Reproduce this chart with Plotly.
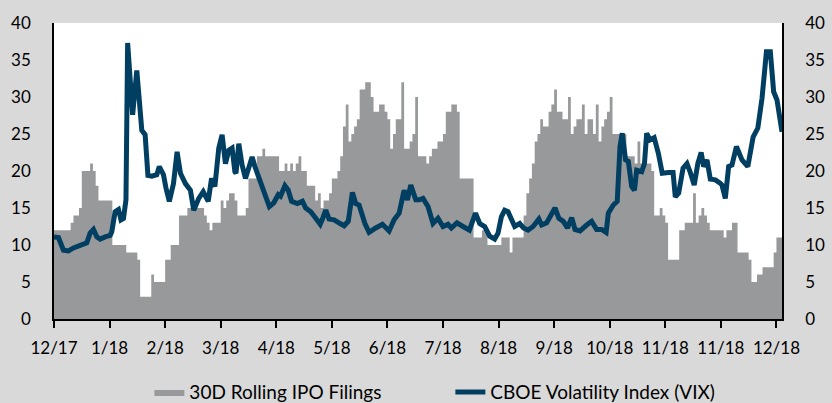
import plotly.graph_objects as go

# x positions are trading-day indices (0 = mid Dec 2017, 262 = Dec 2018)
tick_vals = [0, 20, 40, 60, 80, 100, 120, 140, 160, 180, 200, 220, 240, 260]
tick_text = ["12/17", "1/18", "2/18", "3/18", "4/18", "5/18", "6/18", "7/18",
             "8/18", "9/18", "10/18", "11/18", "11/18", "12/18"]

# 30D rolling IPO filings (step series: day index where a level begins, level)
ipo_day = [0, 6, 7, 9, 10, 13, 14, 15, 16, 21, 26, 30, 31, 35, 36, 40, 42, 45, 48,
           54, 55, 56, 57, 60, 61, 62, 63, 65, 66, 69, 70, 73, 75, 76, 81, 83, 84, 85,
           86, 87, 88, 89, 91, 94, 95, 96, 97, 99, 100, 102, 103, 104, 105, 106, 107,
           108, 109, 110, 112, 114, 115, 117, 119, 120, 121, 122, 123, 125, 126, 128,
           129, 130, 131, 134, 135, 136, 138, 140, 141, 143, 145, 146, 151, 154, 156,
           161, 164, 165, 169, 170, 171, 172, 173, 174, 175, 176, 178, 179, 180, 181,
           183, 185, 186, 187, 188, 190, 191, 192, 194, 195, 196, 197, 198, 199, 200,
           201, 206, 209, 210, 211, 215, 216, 218, 219, 220, 221, 225, 227, 230, 231,
           232, 233, 234, 235, 236, 241, 242, 244, 246, 250, 251, 253, 255, 259, 260, 262]
ipo_val = [12, 13, 14, 15, 20, 21, 20, 18, 16, 10, 9, 8, 3, 6, 5, 8, 10, 14, 15,
           14, 13, 12, 13, 16, 15, 16, 17, 16, 14, 15, 19, 22, 23, 22, 20, 21, 20, 21,
           20, 21, 22, 20, 18, 16, 17, 15, 16, 17, 19, 20, 22, 26, 29, 24, 25,
           26, 27, 31, 32, 30, 28, 29, 28, 27, 23, 25, 27, 32, 23, 24,
           25, 30, 22, 21, 22, 23, 24, 25, 28, 29, 28, 19, 11, 12, 10,
           11, 9, 11, 14, 17, 19, 21, 24, 25, 27, 26, 28, 29, 31, 28,
           27, 30, 25, 26, 27, 29, 25, 27, 25, 29, 24, 26, 27, 28, 30,
           25, 22, 21, 24, 21, 20, 14, 15, 14, 13, 8, 12, 13, 17, 13,
           14, 15, 14, 13, 12, 11, 12, 13, 9, 8, 5, 6, 7, 9, 11, 11]

# CBOE Volatility Index (VIX)
vix_day = [0, 1.6, 3.4, 5.2, 7, 8.8, 10.6, 11.8, 13, 14.2, 15.4, 16.6, 18.4, 20.2, 20.8,
           22, 23.2, 24.1, 25, 25.9, 26.5, 28.3, 29.8, 31.6, 32.8, 33.8, 35.2, 37, 37.9,
           39.4, 40.3, 41.5, 43, 44.3, 45.5, 47.3, 49.1, 50.3, 52.1, 53.7, 55.5, 56.7,
           57.9, 59.3, 60.5, 61.7, 62.9, 64.1, 65.1, 65.5, 66.5, 67.7, 68.9, 70.3, 71.3,
           72.3, 73.7, 75.5, 77.5, 79.1, 80.7, 81.5, 83.1, 84.3, 85.5, 87.6, 89.4, 90.6,
           92.4, 94.2, 95.8, 96.6, 97.8, 99, 100.8, 103, 104.4, 105.9, 107.4, 108.6,
           109.8, 111.9, 113.4, 115.8, 118.2, 120.6, 122.4, 124.2, 126, 127.2, 128.4,
           130.2, 131.5, 132.8, 134.6, 136.4, 138.2, 140, 141.8, 143, 145, 147.2, 149.5,
           151.7, 153.2, 155, 156.8, 158.6, 159.8, 161, 162.2, 163.4, 164.6, 165.8, 167.6,
           169, 170.6, 172.4, 174.5, 175.5, 177.3, 178.9, 180.3, 181.7, 183.3, 184.8,
           186.3, 187.5, 189.3, 191.7, 193.5, 195.3, 197.1, 198.7, 199.5, 201.3, 202.7,
           203.7, 204.5, 205.7, 206.7, 207.9, 208.9, 209.7, 211.5, 212.5, 213.3, 214.5,
           216, 217.5, 218.9, 221.2, 222.8, 223.6, 224.8, 226.4, 227.8, 229, 230.4,
           231.7, 232.9, 233.8, 235, 236.2, 238, 239.6, 240.4, 241.6, 242.8, 244, 245.6,
           247.6, 249.7, 251.6, 253.3, 254.8, 256.4, 257.8, 259, 260.2, 262]
vix_val = [11.1, 11.0, 9.3, 9.2, 9.6, 9.8, 10.1, 10.3, 11.6, 12.1, 11.1, 10.8, 11.1, 11.3, 11.8,
           14.5, 14.8, 13.4, 13.6, 16.1, 37.3, 27.6, 33.6, 25.5, 24.9, 19.4, 19.3, 19.5, 20.6,
           19.5, 17.7, 15.9, 18.3, 22.6, 19.7, 18.3, 17.4, 14.7, 16.3, 17.2, 15.9, 19.0,
           17.9, 23.1, 24.9, 21.0, 22.8, 23.1, 19.9, 19.7, 23.7, 20.8, 19.0, 20.8, 21.9,
           20.6, 19.2, 17.0, 15.2, 15.7, 16.8, 16.6, 18.0, 17.4, 15.9, 15.6, 15.9, 15.0,
           14.5, 13.6, 12.8, 13.5, 14.7, 13.5, 13.4, 12.9, 12.6, 13.2, 17.1, 15.6,
           15.4, 12.9, 11.7, 12.3, 12.8, 11.9, 13.4, 14.3, 17.4, 16.1, 18.1,
           16.1, 16.1, 16.3, 15.2, 12.9, 13.6, 12.5, 12.8, 12.3, 13.0, 12.5, 12.0,
           14.3, 12.9, 12.5, 11.2, 10.8, 11.6, 13.8, 14.7, 14.5, 13.4, 12.5, 12.9,
           12.3, 12.0, 12.5, 13.5, 12.7, 13.0, 14.1, 15.0, 13.6, 13.2, 12.3,
           13.7, 12.1, 11.9, 12.7, 13.2, 12.1, 12.1, 11.7, 14.3, 15.4, 15.9,
           23.3, 25.1, 21.5, 21.3, 17.9, 17.4, 20.1, 19.9, 21.0, 25.1, 24.2,
           24.5, 22.4, 19.7, 19.8, 19.8, 16.5, 17.0, 20.4, 21.0, 19.8, 18.1,
           21.0, 22.5, 20.6, 21.5, 18.9, 18.8, 18.4, 18.1, 16.3, 20.6, 20.8, 23.3,
           21.5, 20.6, 24.6, 25.8, 29.8, 36.1, 36.1, 30.7, 29.6, 25.3]

FONT = "Lato"
fig = go.Figure()
fig.add_trace(go.Scatter(
    x=ipo_day, y=ipo_val, name="30D Rolling IPO Filings",
    mode="lines", line=dict(shape="hv", width=0, color="#98999b"),
    fill="tozeroy", fillcolor="#98999b", yaxis="y",
))
fig.add_trace(go.Scatter(
    x=vix_day, y=vix_val, name="CBOE Volatility Index (VIX)",
    mode="lines", line=dict(width=5, color="#003f62"),
    yaxis="y2",
))

axis_common = dict(range=[0, 40], dtick=5, showgrid=False, zeroline=False,
                   showline=True, linecolor="black", linewidth=1.5,
                   ticks="", ticklabelstandoff=18, automargin=False,
                   tickfont=dict(family=FONT, size=17, color="black"))
fig.update_layout(
    width=832, height=403,
    margin=dict(l=54, r=50, t=23, b=84, autoexpand=False),
    paper_bgcolor="#d9d9d9", plot_bgcolor="white",
    font=dict(family=FONT, size=17, color="black"),
    xaxis=dict(range=[0, 262], tickvals=tick_vals, ticktext=tick_text,
               showgrid=False, zeroline=False, showline=True, linecolor="black",
               linewidth=1.5, ticks="outside", ticklen=7, tickwidth=1.5,
               tickcolor="black", ticklabelstandoff=6, automargin=False,
               tickfont=dict(family=FONT, size=17, color="black")),
    yaxis=dict(**axis_common, side="left"),
    yaxis2=dict(**axis_common, side="right", overlaying="y"),
    legend=dict(orientation="h", x=0.131, xanchor="left", y=-0.247,
                yanchor="middle", bgcolor="rgba(0,0,0,0)",
                entrywidth=256, entrywidthmode="pixels",
                font=dict(family=FONT, size=19, color="black")),
    showlegend=True,
)
fig.write_html("out.html", config={"displayModeBar": False},
               post_script="document.body.style.margin='0';")
